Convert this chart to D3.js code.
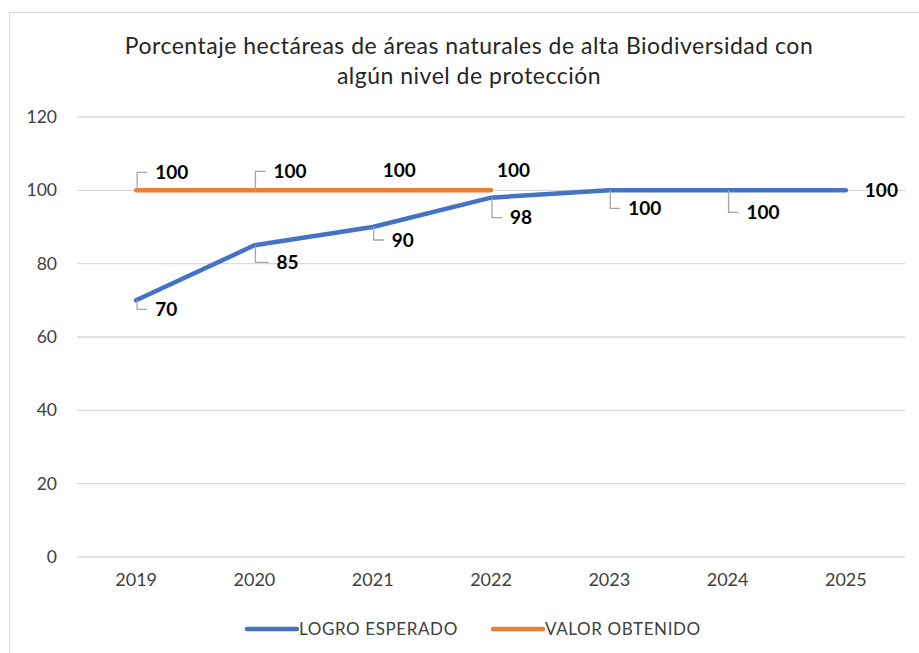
<!DOCTYPE html>
<html>
<head>
<meta charset="utf-8">
<script src="https://cdn.jsdelivr.net/npm/d3@7"></script>
<style>
  body { margin: 0; background: #fff; }
  svg { display: block; font-family: Lato, 'Noto Sans', sans-serif; }
</style>
</head>
<body>
<svg></svg>
<script>
'use strict';
// data
var years = ['2019', '2020', '2021', '2022', '2023', '2024', '2025'];
var logroEsperado = [70, 85, 90, 98, 100, 100, 100];
var valorObtenido = [100, 100, 100, 100];
var yTicks = [0, 20, 40, 60, 80, 100, 120];
var titleLines = ['Porcentaje hectáreas de áreas naturales de alta Biodiversidad con', 'algún nivel de protección'];
var seriesNames = ['LOGRO ESPERADO', 'VALOR OBTENIDO'];

// label placement (offset from point, leader yes/no)
var blueLabelPos = [
  {dx: 19, dy: 9, lead: 'down'}, {dx: 22, dy: 17, lead: 'down'}, {dx: 19, dy: 13, lead: 'down'},
  {dx: 19, dy: 20, lead: 'down'}, {dx: 19, dy: 18, lead: 'down'}, {dx: 19, dy: 22, lead: 'down'},
  {dx: 19, dy: 0, lead: 'none'}
];
var orangeLabelPos = [
  {dx: 19, dy: -18, lead: 'up'}, {dx: 19, dy: -19, lead: 'up'},
  {dx: 10, dy: -20, lead: 'none'}, {dx: 6, dy: -20, lead: 'none'}
];

var canvasWidth = 919;
var canvasHeight = 653;
var margin = {top: 117, right: 14, bottom: 96, left: 77};
var width = canvasWidth - margin.left - margin.right;
var height = canvasHeight - margin.top - margin.bottom;
var blue = '#4472C4';
var orange = '#ED7D31';

var svg = d3.select('svg')
  .attr('width', canvasWidth)
  .attr('height', canvasHeight);

// chart border
svg.append('rect')
  .attr('x', 9.5).attr('y', 12.5)
  .attr('width', 920).attr('height', 660)
  .attr('fill', 'none')
  .attr('stroke', '#d9d9d9')
  .attr('stroke-width', 1);

svg.append('text')
  .attr('x', 469)
  .attr('y', 54)
  .attr('text-anchor', 'middle')
  .style('font-size', '23px')
  .style('letter-spacing', '0.5px')
  .attr('fill', '#262626')
  .selectAll('tspan')
  .data(titleLines)
 .enter().append('tspan')
  .attr('x', 469)
  .attr('dy', function(d, i) { return i === 0 ? 0 : 30; })
  .text(function(d) { return d; });

var g = svg.append('g')
  .attr('transform', 'translate(' + margin.left + ',' + margin.top + ')');

var xScale = d3.scaleBand().domain(years).range([0, width]);
var yScale = d3.scaleLinear().domain([0, 120]).range([height, 0]);
var xPos = function(d, i) { return xScale(years[i]) + xScale.bandwidth() / 2; };

// gridlines
g.selectAll('.grid')
  .data(yTicks)
 .enter().append('line')
  .attr('class', 'grid')
  .attr('x1', 0).attr('x2', width)
  .attr('y1', function(d) { return yScale(d); })
  .attr('y2', function(d) { return yScale(d); })
  .attr('stroke', '#d9d9d9')
  .attr('stroke-width', 1.3);

var yAxis = g.append('g')
  .call(d3.axisLeft(yScale).tickValues(yTicks).tickSize(0).tickPadding(20));
yAxis.select('.domain').remove();
yAxis.selectAll('text')
  .style('font-size', '17.5px')
  .style('font-family', 'Lato, sans-serif')
  .attr('fill', '#404040');

var xAxis = g.append('g')
  .attr('transform', 'translate(0,' + height + ')')
  .call(d3.axisBottom(xScale).tickSize(0).tickPadding(16));
xAxis.select('.domain').remove();
xAxis.selectAll('text')
  .style('font-size', '18px')
  .style('font-family', 'Lato, sans-serif')
  .attr('fill', '#404040');

var line = d3.line()
  .x(xPos)
  .y(function(d) { return yScale(d); });

g.append('path')
  .datum(logroEsperado)
  .attr('d', line)
  .attr('fill', 'none')
  .attr('stroke', blue)
  .attr('stroke-width', 4.5)
  .attr('stroke-linecap', 'round')
  .attr('stroke-linejoin', 'round');

g.append('path')
  .datum(valorObtenido)
  .attr('d', line)
  .attr('fill', 'none')
  .attr('stroke', orange)
  .attr('stroke-width', 4.5)
  .attr('stroke-linecap', 'round')
  .attr('stroke-linejoin', 'round');

// data labels with leader lines
function addLabels(values, pos) {
  values.forEach(function(v, i) {
    var px = xPos(v, i);
    var py = yScale(v);
    var p = pos[i];
    if (p.lead !== 'none') {
      g.append('path')
        .attr('d', 'M' + (px + 1) + ',' + py + 'V' + (py + p.dy) + 'H' + (px + p.dx - 8))
        .attr('fill', 'none')
        .attr('stroke', '#a6a6a6')
        .attr('stroke-width', 1.3);
    }
    g.append('text')
      .attr('x', px + p.dx)
      .attr('y', py + p.dy)
      .attr('dy', '0.35em')
      .style('font-size', '19px')
      .style('font-weight', 'bold')
      .attr('fill', '#000')
      .text(v);
  });
}
addLabels(logroEsperado, blueLabelPos);
addLabels(valorObtenido, orangeLabelPos);

// legend
var legendData = [
  {name: seriesNames[0], color: blue, x: 247},
  {name: seriesNames[1], color: orange, x: 493}
];
var legend = svg.selectAll('.legend')
  .data(legendData)
 .enter().append('g')
  .attr('class', 'legend')
  .attr('transform', function(d) { return 'translate(' + d.x + ',629)'; });
legend.append('line')
  .attr('x1', 0).attr('x2', 50)
  .attr('stroke', function(d) { return d.color; })
  .attr('stroke-width', 4.5)
  .attr('stroke-linecap', 'round');
legend.append('text')
  .attr('x', 52)
  .attr('dy', '0.35em')
  .style('font-size', '17px')
  .style('letter-spacing', '0.6px')
  .attr('fill', '#404040')
  .text(function(d) { return d.name; });
</script>
</body>
</html>
